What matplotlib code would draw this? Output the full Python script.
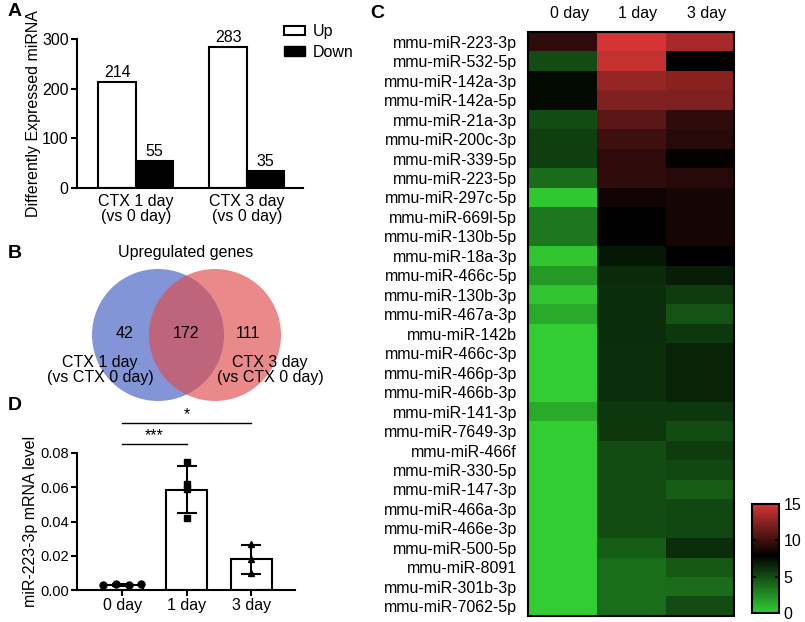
import numpy as np
import matplotlib.pyplot as plt
from matplotlib.patches import Patch, Circle
from matplotlib.colors import LinearSegmentedColormap

plt.rcParams['font.family'] = ['Liberation Sans', 'DejaVu Sans']
plt.rcParams['font.size'] = 11.5

# ---- data ----
groups_a = ['CTX 1 day\n(vs 0 day)', 'CTX 3 day\n(vs 0 day)']
up_counts = [214, 283]
down_counts = [55, 35]

venn_only1 = 42
venn_both = 172
venn_only3 = 111

mirnas = ['mmu-miR-223-3p', 'mmu-miR-532-5p', 'mmu-miR-142a-3p', 'mmu-miR-142a-5p',
          'mmu-miR-21a-3p', 'mmu-miR-200c-3p', 'mmu-miR-339-5p', 'mmu-miR-223-5p',
          'mmu-miR-297c-5p', 'mmu-miR-669l-5p', 'mmu-miR-130b-5p', 'mmu-miR-18a-3p',
          'mmu-miR-466c-5p', 'mmu-miR-130b-3p', 'mmu-miR-467a-3p', 'mmu-miR-142b',
          'mmu-miR-466c-3p', 'mmu-miR-466p-3p', 'mmu-miR-466b-3p', 'mmu-miR-141-3p',
          'mmu-miR-7649-3p', 'mmu-miR-466f', 'mmu-miR-330-5p', 'mmu-miR-147-3p',
          'mmu-miR-466a-3p', 'mmu-miR-466e-3p', 'mmu-miR-500-5p', 'mmu-miR-8091',
          'mmu-miR-301b-3p', 'mmu-miR-7062-5p']
heat_cols = ['0 day', '1 day', '3 day']
day0 = [9.5, 5.0, 7.5, 7.5, 5.0, 5.5, 5.5, 3.8, 0.2, 3.3, 3.3, 0.3, 2.0, 0.3, 1.4,
        0.0, 0.0, 0.0, 0.0, 1.4, 0.0, 0.0, 0.0, 0.0, 0.0, 0.0, 0.0, 0.0, 0.0, 0.0]
day1 = [15.0, 14.5, 13.0, 12.2, 11.0, 10.0, 9.5, 9.5, 8.5, 7.9, 7.9, 7.0, 6.3, 6.2, 6.2,
        6.2, 6.1, 6.1, 6.1, 5.8, 5.8, 5.0, 5.0, 5.0, 5.0, 5.0, 4.3, 3.7, 3.7, 3.7]
day3 = [13.5, 8.0, 12.5, 12.2, 9.5, 9.2, 8.2, 9.3, 8.7, 8.7, 8.7, 7.9, 6.8, 5.6, 4.7,
        5.8, 6.6, 6.6, 6.6, 5.8, 5.0, 5.6, 5.2, 4.3, 5.2, 5.2, 6.2, 4.5, 3.8, 5.0]

days_d = ['0 day', '1 day', '3 day']
pts_0 = [0.003, 0.0035, 0.003, 0.0035]
pts_1 = [0.075, 0.062, 0.059, 0.042]
pts_3 = [0.027, 0.018, 0.010]
mean_d = [0.003, 0.0585, 0.018]
sd_d = [0.0004, 0.0137, 0.0085]

W, H = 805, 622
fig = plt.figure(figsize=(W / 100, H / 100), dpi=100)


def box(l, t, r, b):
    return [l / W, 1 - b / H, (r - l) / W, (b - t) / H]


def style(ax):
    for s in ['top', 'right']:
        ax.spines[s].set_visible(False)
    for s in ['left', 'bottom']:
        ax.spines[s].set_linewidth(1.5)
    ax.tick_params(width=1.5, length=4, pad=2)


# ---- A ----
ax = fig.add_axes(box(77, 39, 303, 188))
style(ax)
x = np.arange(len(groups_a))
bw = 0.338
ax.bar(x - bw / 2, up_counts, bw, color='white', edgecolor='black', linewidth=1.5)
ax.bar(x + bw / 2, down_counts, bw, color='black', edgecolor='black', linewidth=1.5)
for i in range(len(x)):
    ax.text(x[i] - bw / 2, up_counts[i] + 4, str(up_counts[i]), ha='center', va='bottom')
    ax.text(x[i] + bw / 2, down_counts[i] + 4, str(down_counts[i]), ha='center', va='bottom')
ax.set_xlim(-0.53, 1.505)
ax.set_ylim(0, 300)
ax.set_yticks([0, 100, 200, 300])
ax.set_xticks(x)
ax.set_xticklabels(groups_a, linespacing=1.0)
ax.tick_params(axis='x', length=0, pad=4)
ax.set_ylabel('Differently Expressed miRNA')
ax.yaxis.set_label_coords(-0.16, 0.5)
ax.legend(handles=[Patch(facecolor='white', edgecolor='black', linewidth=1.5, label='Up'),
                   Patch(facecolor='black', edgecolor='black', label='Down')],
          loc='upper left', bbox_to_anchor=(284 / W, 1 - 24 / H), bbox_transform=fig.transFigure,
          frameon=False, handlelength=1.3, handleheight=0.55, handletextpad=0.5,
          borderpad=0, borderaxespad=0, labelspacing=0.35)

# ---- B ----
axb = fig.add_axes(box(40, 240, 330, 420))
axb.set_xlim(40, 330)
axb.set_ylim(420, 240)
axb.axis('off')
axb.add_patch(Circle((158, 335), 66, facecolor=(72/255, 99/255, 196/255), alpha=0.68, lw=0))
axb.add_patch(Circle((215, 335), 66, facecolor=(222/255, 74/255, 74/255), alpha=0.65, lw=0))
axb.text(186, 253, 'Upregulated genes', ha='center', va='center')
axb.text(124, 334, str(venn_only1), ha='center', va='center')
axb.text(186, 334, str(venn_both), ha='center', va='center')
axb.text(248, 334, str(venn_only3), ha='center', va='center')
axb.text(100, 370, 'CTX 1 day\n(vs CTX 0 day)', ha='center', va='center', linespacing=1.0)
axb.text(270, 370, 'CTX 3 day\n(vs CTX 0 day)', ha='center', va='center', linespacing=1.0)

# ---- D ----
axd = fig.add_axes(box(77, 453, 295, 590))
style(axd)
xd = np.arange(len(days_d))
axd.bar(xd, mean_d, 0.64, color='white', edgecolor='black', linewidth=1.5, zorder=1)
axd.errorbar(xd, mean_d, yerr=sd_d, fmt='none', ecolor='black', elinewidth=1.5,
             capsize=7.5, capthick=1.5, zorder=2)
axd.plot(xd[0] + np.linspace(-0.3, 0.3, len(pts_0)), pts_0, 'o', color='black', ms=5, zorder=3)
axd.plot(np.full(len(pts_1), xd[1]), pts_1, 's', color='black', ms=5, zorder=3)
axd.plot(np.full(len(pts_3), xd[2]), pts_3, '^', color='black', ms=5, zorder=3)
axd.set_xlim(-0.70, 2.68)
axd.set_ylim(0, 0.08)
axd.set_yticks([0, 0.02, 0.04, 0.06, 0.08])
axd.set_yticklabels(['0.00', '0.02', '0.04', '0.06', '0.08'])
axd.tick_params(axis='y', labelsize=10.5)
axd.set_xticks(xd)
axd.set_xticklabels(days_d)
axd.set_ylabel('miR-223-3p mRNA level')
axd.yaxis.set_label_coords(-0.18, 0.5)
axd.plot([xd[0], xd[1]], [0.0853, 0.0853], color='black', lw=1, clip_on=False)
axd.text((xd[0] + xd[1]) / 2, 0.0858, '***', ha='center', va='bottom')
axd.plot([xd[0], xd[2]], [0.0975, 0.0975], color='black', lw=1, clip_on=False)
axd.text((xd[0] + xd[2]) / 2, 0.098, '*', ha='center', va='bottom')

# ---- C ----
cmap = LinearSegmentedColormap.from_list('gbr', [(0.0, (50/255, 205/255, 50/255)),
                                                 (0.53, (0, 0, 0)),
                                                 (1.0, (212/255, 52/255, 52/255))])
heat = np.array([day0, day1, day3]).T
axc = fig.add_axes(box(528, 32, 734, 616))
im = axc.imshow(heat, cmap=cmap, vmin=0, vmax=15, aspect='auto', interpolation='nearest')
axc.set_yticks(np.arange(len(mirnas)))
axc.set_yticklabels(mirnas)
axc.set_xticks(np.arange(len(heat_cols)) + 0.1)
axc.set_xticklabels(heat_cols)
axc.xaxis.tick_top()
axc.tick_params(length=0, pad=8)
for s in axc.spines.values():
    s.set_linewidth(1.5)

cax = fig.add_axes(box(752, 504, 779, 613))
cb = fig.colorbar(im, cax=cax, ticks=[0, 5, 10, 15])
cb.outline.set_linewidth(1.5)
cax.tick_params(direction='in', left=True, right=True, length=3, width=1.2, labelsize=11.5)

# panel letters
for lab, px, py in [('A', 8, 12), ('B', 8, 253), ('C', 370, 13), ('D', 8, 405)]:
    fig.text(px / W, 1 - py / H, lab, fontsize=14, fontweight='bold', ha='left', va='center')

fig.savefig('out.png', dpi=100)
